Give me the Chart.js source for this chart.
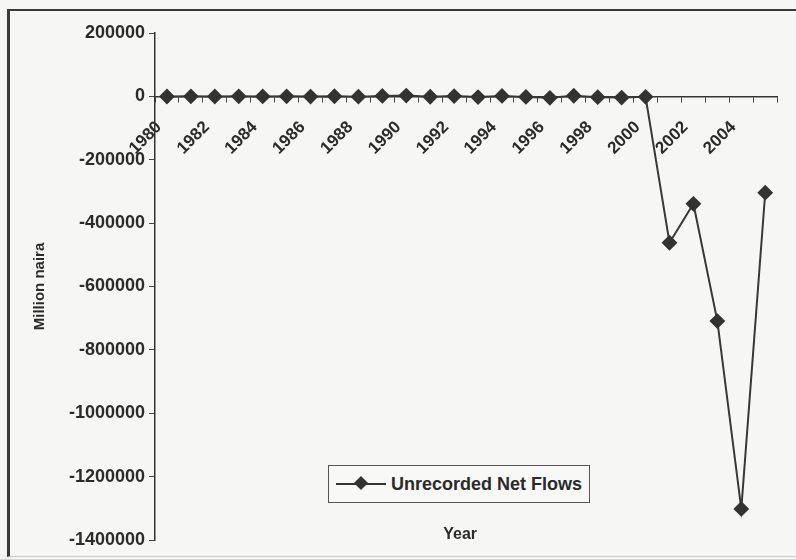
<!DOCTYPE html>
<html lang="en">
<head>
    <meta charset="UTF-8">
    <title>Unrecorded Net Flows</title>
    <script src="https://cdn.jsdelivr.net/npm/chart.js"></script>
    <style>
        html, body { margin: 0; padding: 0; background: #f6f6f4; }
        #wrap { position: relative; width: 796px; height: 559px; overflow: hidden; }
        #frame {
            position: absolute; left: 7px; top: 9px; width: 800px; height: 545px;
            border-top: 2px solid #3a3a3a; border-left: 3px solid #3a3a3a; border-bottom: 1px solid #c8c8c8;
        }
        #chart { position: absolute; left: 0; top: 0; }
        #legend {
            position: absolute; left: 328px; top: 465px; width: 262px; height: 38px;
            border: 1px solid #555; background: #f8f8f6; box-sizing: border-box;
            font: bold 18px "Liberation Sans", Arial, sans-serif; color: #2a2a2a;
            display: flex; align-items: center;
        }
        #legend .mark { position: relative; width: 50px; height: 2px; background: #333; margin: 0 5px 0 7px; }
        #legend .mark span {
            position: absolute; left: 20px; top: -5px; width: 10px; height: 10px;
            background: #333; transform: rotate(45deg);
        }
    </style>
</head>
<body>
<div id="wrap">
    <div id="frame"></div>
    <canvas id="chart" width="796" height="559"></canvas>
    <div id="legend"><div class="mark"><span></span></div><span>Unrecorded Net Flows</span></div>
</div>
<script>
    const years = ['1980', '1981', '1982', '1983', '1984', '1985', '1986', '1987', '1988', '1989',
        '1990', '1991', '1992', '1993', '1994', '1995', '1996', '1997', '1998', '1999',
        '2000', '2001', '2002', '2003', '2004', '2005'];
    // million naira
    const flows = [-350, 120, -480, 210, -150, 90, -620, 340, -900, 1500,
        2600, -1200, 800, -2100, 1400, -1800, -4500, 1900, -2600, -3800,
        -1500, -462000, -339000, -709000, -1302000, -304000];

    const fontFamily = '"Liberation Sans", Arial, sans-serif';
    const ink = '#2b2b2b';

    const axisTitles = {
        id: 'axisTitles',
        afterDraw(chart) {
            const {ctx, chartArea} = chart;
            ctx.save();
            ctx.font = 'bold 16px ' + fontFamily;
            ctx.fillStyle = ink;
            ctx.textAlign = 'center';
            ctx.textBaseline = 'middle';
            ctx.fillText('Year', (chartArea.left + chartArea.right) / 2 - 6, chartArea.bottom - 5);
            ctx.restore();
        }
    };

    new Chart(document.getElementById('chart'), {
        type: 'line',
        data: {
            labels: years,
            datasets: [{
                label: 'Unrecorded Net Flows',
                data: flows,
                borderColor: '#383838',
                borderWidth: 2,
                pointStyle: 'rectRot',
                pointRadius: 6.5,
                pointBackgroundColor: '#333',
                pointBorderColor: '#333',
                tension: 0
            }]
        },
        options: {
            responsive: false,
            animation: false,
            layout: {padding: {left: 27, top: 33, right: 18, bottom: 19}},
            plugins: {
                legend: {display: false},
                tooltip: {enabled: false}
            },
            scales: {
                x: {
                    type: 'category',
                    offset: true,
                    position: {y: 0},
                    grid: {offset: true, drawOnChartArea: false, drawTicks: true, tickLength: 5, color: '#444'},
                    border: {color: '#333', width: 1.5},
                    ticks: {
                        autoSkip: false, minRotation: 45, maxRotation: 45, padding: 16, labelOffset: -8,
                        color: ink, font: {family: fontFamily, size: 17, weight: 'bold'},
                        callback: (v, i) => i % 2 ? '' : years[i]
                    },
                    afterFit: s => { s.height = 0; }
                },
                y: {
                    min: -1400000,
                    max: 200000,
                    grid: {drawOnChartArea: false, tickLength: 6, color: '#444'},
                    border: {color: '#333', width: 1.5},
                    ticks: {
                        stepSize: 200000, padding: 4, color: ink,
                        font: {family: fontFamily, size: 18, weight: 'bold'},
                        callback: v => String(v)
                    },
                    title: {
                        display: true, text: 'Million naira', color: ink,
                        font: {family: fontFamily, size: 15, weight: 'bold'}
                    },
                    afterFit: s => { s.width = 128; }
                }
            }
        },
        plugins: [axisTitles]
    });
</script>
</body>
</html>
